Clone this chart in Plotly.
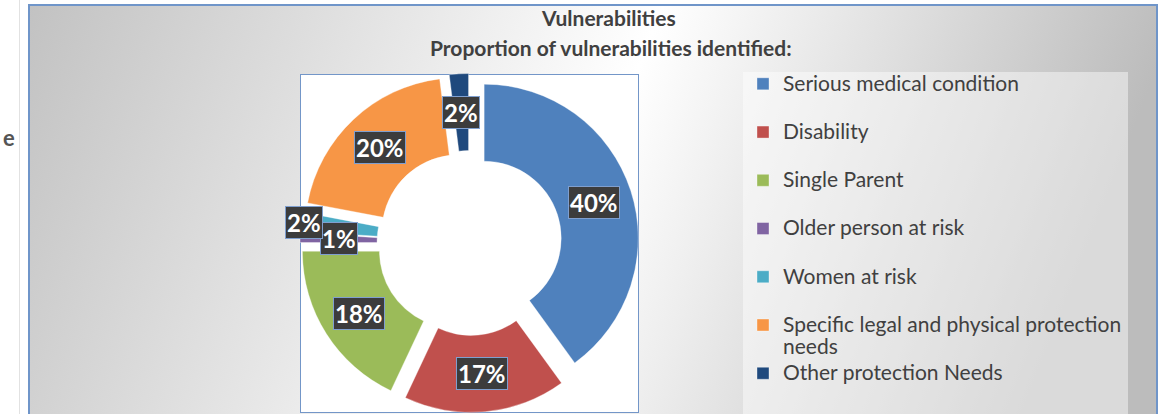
import math
import base64
import plotly.graph_objects as go

# ---------------- data ----------------
categories = [
    "Serious medical condition",
    "Disability",
    "Single Parent",
    "Older person at risk",
    "Women at risk",
    "Specific legal and physical protection<br>needs",
    "Other protection Needs",
]
values = [40, 17, 18, 1, 2, 20, 2]
pct_labels = ["40%", "17%", "18%", "1%", "2%", "20%", "2%"]
colors = ["#4F81BD", "#C0504D", "#9BBB59", "#8064A2", "#4BACC6", "#F79646", "#1F497D"]
title_lines = ["Vulnerabilities", "Proportion of vulnerabilities identified:"]

# ---------------- layout constants ----------------
W, H = 1168, 414
FONT = "Lato"
TXT = "#404040"
pie_box = (300, 73.5, 639, 412.5)  # left, top, right, bottom in px
hole = 0.5
pull = 0.1
label_extra = {4: 36}  # extra radial offset (px) for crowded label


def px_x(x):
    return x / W


def px_y(y):
    return 1 - y / H


# legend labels: every entry takes two lines for Excel-like spacing,
# text drawn larger than the base legend font
def legend_label(c):
    parts = c.split("<br>")
    if len(parts) == 1:
        parts.append("&nbsp;")
    return "<br>".join(f'<span style="font-size:21px">{p}</span>' for p in parts)


legend_labels = [legend_label(c) for c in categories]

fig = go.Figure()
fig.add_trace(go.Pie(
    labels=legend_labels,
    values=values,
    sort=False,
    direction="clockwise",
    rotation=0,
    hole=hole,
    pull=[pull] * len(values),
    marker=dict(colors=colors, line=dict(color="rgba(255,255,255,0.35)", width=1)),
    textinfo="none",
    hoverinfo="percent",
    domain=dict(x=[px_x(pie_box[0]), px_x(pie_box[2])],
                y=[px_y(pie_box[3]), px_y(pie_box[1])]),
))

# pie geometry (same as plotly's own pie scaling)
bw = pie_box[2] - pie_box[0]
bh = pie_box[3] - pie_box[1]
R = min(bw, bh) / (2 + 2 * pull)
cx = (pie_box[0] + pie_box[2]) / 2
cy = (pie_box[1] + pie_box[3]) / 2
total = sum(values)

annotations = []
cum = 0
for i, v in enumerate(values):
    mid = (cum + v / 2) / total * 2 * math.pi
    cum += v
    dist = R * (1 + hole) / 2 + pull * R + label_extra.get(i, 0)
    lx = cx + dist * math.sin(mid)
    ly = cy - dist * math.cos(mid)
    annotations.append(dict(
        x=px_x(lx), y=px_y(ly), xref="paper", yref="paper",
        text=pct_labels[i], showarrow=False,
        font=dict(family=FONT, size=24, color="white", weight="bold"),
        bgcolor="#3c3c3c", bordercolor="#7f9fcf", borderwidth=1, borderpad=1,
        xanchor="center", yanchor="middle",
    ))

# titles
annotations.append(dict(x=px_x(609), y=px_y(18), xref="paper", yref="paper",
                        text=title_lines[0], showarrow=False,
                        font=dict(family=FONT, size=21, color=TXT, weight="bold"),
                        xanchor="center", yanchor="middle"))
annotations.append(dict(x=px_x(611), y=px_y(47), xref="paper", yref="paper",
                        text=title_lines[1], showarrow=False,
                        font=dict(family=FONT, size=21, color=TXT, weight="bold"),
                        xanchor="center", yanchor="middle"))
# letter from the surrounding document, at the left edge
annotations.append(dict(x=px_x(1), y=px_y(137), xref="paper", yref="paper",
                        text="e", showarrow=False,
                        font=dict(family=FONT, size=22, color="#555555", weight="bold"),
                        xanchor="left", yanchor="middle"))

# background (gradient chart area, legend panel, plot-area box)
svg = f'''<svg xmlns="http://www.w3.org/2000/svg" width="{W}" height="{H}" viewBox="0 0 {W} {H}" preserveAspectRatio="none">
<defs><linearGradient id="g" x1="0" y1="0" x2="1" y2="0.15">
<stop offset="0" stop-color="#c2c2c2"/><stop offset="0.55" stop-color="#ffffff"/><stop offset="1" stop-color="#bcbcbc"/>
</linearGradient></defs>
<rect width="{W}" height="{H}" fill="#ffffff"/>
<line x1="19.5" y1="0" x2="19.5" y2="{H}" stroke="#e2e2e2" stroke-width="1"/>
<rect x="29" y="5" width="1128" height="430" fill="url(#g)" stroke="#6f95c9" stroke-width="2"/>
<rect x="743" y="72" width="385" height="360" fill="#ffffff" fill-opacity="0.45"/>
<rect x="300.5" y="74.5" width="338" height="338" fill="#ffffff" stroke="#7396c8" stroke-width="1"/>
</svg>'''
src = "data:image/svg+xml;base64," + base64.b64encode(svg.encode()).decode()

fig.update_layout(
    width=W, height=H,
    margin=dict(l=0, r=0, t=0, b=0),
    paper_bgcolor="rgba(0,0,0,0)",
    plot_bgcolor="rgba(0,0,0,0)",
    images=[dict(source=src, xref="paper", yref="paper", x=0, y=1,
                 sizex=1, sizey=1, xanchor="left", yanchor="top",
                 sizing="stretch", layer="below")],
    annotations=annotations,
    showlegend=True,
    legend=dict(
        x=px_x(743), y=px_y(66), xanchor="left", yanchor="top",
        font=dict(family=FONT, size=17.4, color=TXT),
        bgcolor="rgba(0,0,0,0)", valign="top",
        itemclick=False, itemdoubleclick=False,
    ),
)

fig.write_html("out.html", config={"displayModeBar": False},
               post_script="document.body.style.margin='0';")
